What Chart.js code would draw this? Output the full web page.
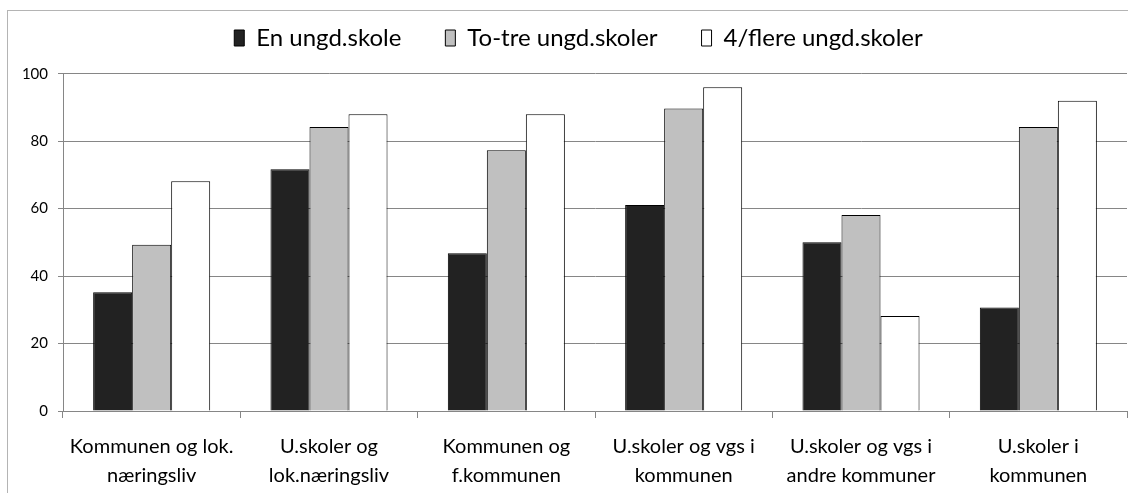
<!DOCTYPE html>
<html>
<head>
<meta charset="utf-8">
<script src="https://cdn.jsdelivr.net/npm/chart.js@4/dist/chart.umd.min.js"></script>
<style>
  html, body { margin: 0; padding: 0; background: #fff; }
  #wrap { position: relative; width: 1128px; height: 493px; }
</style>
</head>
<body>
<div id="wrap"><canvas id="chart"></canvas></div>
<script>
// --- data ---
const categories = [
    ['Kommunen og lok.', 'næringsliv'],
    ['U.skoler og', 'lok.næringsliv'],
    ['Kommunen og', 'f.kommunen'],
    ['U.skoler og vgs i', 'kommunen'],
    ['U.skoler og vgs i', 'andre kommuner'],
    ['U.skoler i', 'kommunen']
];
const seriesNames = ['En ungd.skole', 'To-tre ungd.skoler', '4/flere ungd.skoler'];
const enSkole = [35.2, 71.7, 46.8, 61.1, 50.0, 30.7];
const toTreSkoler = [49.3, 84.2, 77.3, 89.7, 58.1, 84.2];
const fireFlereSkoler = [68.1, 88.0, 88.0, 96.0, 28.2, 92.0];
const yTicks = [0, 20, 40, 60, 80, 100];

const fontFamily = 'Lato, "Open Sans", sans-serif';
const gridGray = '#868686';

// outer frame like the Excel chart area (cropped on right/bottom)
const framePlugin = {
    id: 'frame',
    beforeDraw(chart) {
        const ctx = chart.ctx;
        ctx.save();
        ctx.strokeStyle = '#b4b4b4';
        ctx.lineWidth = 1;
        ctx.strokeRect(7.5, 10.5, 1400, 800);
        ctx.restore();
    }
};

// legend sits a bit right of centre and higher than chart.js puts it
const legendShift = {
    id: 'legendShift',
    afterLayout(chart) {
        const lg = chart.legend;
        if (!lg) return;
        lg.left = 29;
        lg.right = 1128;
        lg.width = lg.right - lg.left;
        lg.top -= 13.7;
        lg.bottom -= 13.7;
    }
};

const bar = (label, data, color) => ({
    label: label,
    data: data,
    backgroundColor: color,
    borderColor: '#000',
    borderWidth: 1,
    categoryPercentage: 0.66,
    barPercentage: 1.0
});

new Chart(document.getElementById('chart'), {
    type: 'bar',
    data: {
        labels: categories,
        datasets: [
            bar(seriesNames[0], enSkole, '#222222'),
            bar(seriesNames[1], toTreSkoler, '#c0c0c0'),
            bar(seriesNames[2], fireFlereSkoler, '#ffffff')
        ]
    },
    options: {
        responsive: true,
        maintainAspectRatio: false,
        animation: false,
        layout: { padding: { top: -4.3, left: 0, right: 1, bottom: 0 } },
        plugins: {
            legend: {
                position: 'top',
                labels: {
                    boxWidth: 10,
                    boxHeight: 16,
                    padding: 44,
                    color: '#000',
                    font: { family: fontFamily, size: 24 }
                }
            },
            tooltip: { enabled: false }
        },
        scales: {
            y: {
                min: 0,
                max: 100,
                afterBuildTicks(scale) {
                    scale.ticks = yTicks.map(v => ({ value: v }));
                },
                afterFit(scale) { scale.width = 63; },
                grid: { color: gridGray, tickLength: 5 },
                border: { color: gridGray },
                ticks: {
                    padding: 10,
                    color: '#000',
                    font: { family: fontFamily, size: 15 }
                }
            },
            x: {
                afterFit(scale) { scale.height = 82; },
                grid: { color: gridGray, drawOnChartArea: false, tickLength: 7 },
                border: { color: gridGray },
                ticks: {
                    padding: 14,
                    color: '#000',
                    maxRotation: 0,
                    autoSkip: false,
                    font: { family: fontFamily, size: 20, lineHeight: 1.435 }
                }
            }
        }
    },
    plugins: [framePlugin, legendShift]
});
</script>
</body>
</html>
